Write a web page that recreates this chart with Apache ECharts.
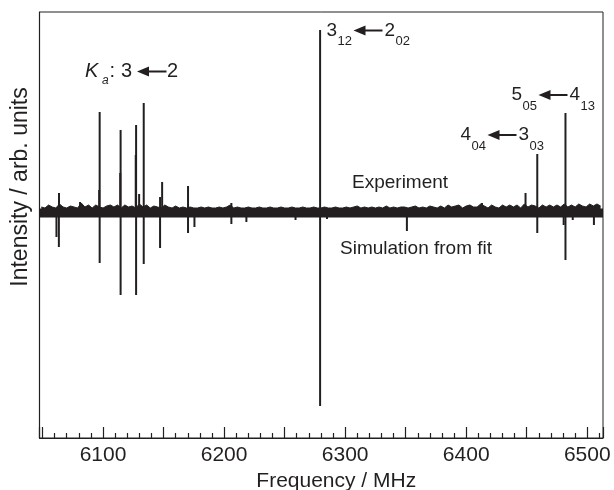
<!DOCTYPE html>
<html>
<head>
<meta charset="utf-8">
<script src="https://cdn.jsdelivr.net/npm/echarts@6/dist/echarts.min.js"></script>
<style>
  html, body { margin: 0; padding: 0; background: #fff; }
  #chart { width: 614px; height: 490px; }
</style>
</head>
<body>
<div id="chart"></div>
<script>
// frequency in MHz, intensity in arb. units (experiment up, simulation from fit down)
const expFreq = [6063.6, 6081, 6096.8, 6097.2, 6114.2, 6114.5, 6127.0, 6127.3, 6129.8, 6133.6, 6147.1, 6148.8, 6170.2, 6206, 6279.3, 6413, 6449, 6458.7, 6482];
const expInt  = [20, 11, 23, 101, 40, 83, 58, 88, 19, 110, 16, 31, 27, 10, 183, 10, 20, 59, 100];

const simFreq = [6061.5, 6063.5, 6097.2, 6114.5, 6127.3, 6133.6, 6147.1, 6170.2, 6175.5, 6206, 6218.4, 6259, 6279.3, 6285, 6351, 6458.7, 6480.5, 6482, 6488, 6505.5];
const simInt  = [-24, -34, -50, -82, -82, -51, -35, -20, -14, -11, -9, -7, -193, -6, -18, -20, -12, -47, -7, -12];

// noise riding on the experimental baseline
const noiseFreq = [
  6049, 6052, 6055, 6058, 6061, 6064, 6067, 6070, 6073, 6076,
  6079, 6082, 6085, 6088, 6091, 6094, 6097, 6100, 6103, 6106,
  6109, 6112, 6115, 6118, 6121, 6124, 6127, 6130, 6133, 6136,
  6139, 6142, 6145, 6148, 6151, 6154, 6157, 6160, 6163, 6166,
  6169, 6172, 6175, 6178, 6181, 6184, 6187, 6190, 6193, 6196,
  6199, 6202, 6205, 6208, 6211, 6214, 6217, 6220, 6223, 6226,
  6229, 6232, 6235, 6238, 6241, 6244, 6247, 6250, 6253, 6256,
  6259, 6262, 6265, 6268, 6271, 6274, 6277, 6280, 6283, 6286,
  6289, 6292, 6295, 6298, 6301, 6304, 6307, 6310, 6313, 6316,
  6319, 6322, 6325, 6328, 6331, 6334, 6337, 6340, 6343, 6346,
  6349, 6352, 6355, 6358, 6361, 6364, 6367, 6370, 6373, 6376,
  6379, 6382, 6385, 6388, 6391, 6394, 6397, 6400, 6403, 6406,
  6409, 6412, 6415, 6418, 6421, 6424, 6427, 6430, 6433, 6436,
  6439, 6442, 6445, 6448, 6451, 6454, 6457, 6460, 6463, 6466,
  6469, 6472, 6475, 6478, 6481, 6484, 6487, 6490, 6493, 6496,
  6499, 6502, 6505, 6508, 6511
];
const noiseInt = [
  6, 5, 8, 6, 5, 9, 6, 5, 7, 6,
  5, 10, 6, 8, 5, 8, 6, 5, 7, 8,
  6, 8, 5, 8, 6, 7, 5, 9, 6, 8,
  5, 7, 6, 5, 8, 6, 5, 7, 5, 6,
  5, 6, 5, 5, 6, 5, 6, 5, 5, 6,
  5, 6, 8, 5, 6, 5, 5, 6, 5, 5,
  6, 5, 5, 6, 5, 5, 6, 5, 5, 6,
  5, 5, 6, 5, 5, 6, 5, 5, 6, 5,
  5, 6, 5, 5, 6, 5, 6, 7, 5, 6,
  5, 6, 5, 6, 5, 7, 5, 6, 5, 6,
  6, 5, 6, 7, 5, 6, 5, 7, 6, 5,
  7, 5, 8, 6, 7, 8, 5, 7, 8, 6,
  6, 9, 7, 5, 8, 6, 5, 8, 6, 8,
  6, 8, 5, 9, 6, 8, 7, 5, 8, 6,
  8, 6, 8, 6, 9, 6, 8, 6, 9, 7,
  6, 9, 7, 9, 7
];

const xRange = [6047.5, 6513];
const yRange = [-225, 201];
const xTickLabels = [6100, 6200, 6300, 6400, 6500];

const ink = '#231f20';
const font = '"Liberation Sans", Arial, sans-serif';

const chart = echarts.init(document.getElementById('chart'), null, { renderer: 'canvas' });

function sticks(freqs, ints, width) {
  return {
    type: 'custom',
    data: freqs.map((f, i) => [f, ints[i]]),
    clip: true,
    silent: true,
    renderItem: (params, api) => {
      const p0 = api.coord([api.value(0), 0]);
      const p1 = api.coord([api.value(0), api.value(1)]);
      return {
        type: 'line',
        shape: { x1: p0[0], y1: p0[1], x2: p1[0], y2: p1[1] },
        style: { stroke: ink, lineWidth: width }
      };
    }
  };
}

// annotation helpers (pixel placement of text pieces)
function txt(x, y, s, size, italic) {
  return {
    type: 'text', x: x, y: y, silent: true,
    style: { text: s, fill: ink, font: (italic ? 'italic ' : '') + size + 'px ' + font, verticalAlign: 'middle', align: 'left' }
  };
}
function arrow(x1, x2, y) {
  return {
    type: 'group', silent: true,
    children: [
      { type: 'polygon', shape: { points: [[x1, y], [x1 + 12, y - 5], [x1 + 12, y + 5]] }, style: { fill: ink } },
      { type: 'line', shape: { x1: x1 + 10, y1: y, x2: x2, y2: y }, style: { stroke: ink, lineWidth: 2 } }
    ]
  };
}
function transition(x, y, a, aSub, b, bSub) {
  // x: left of first level, y: middle of the main digits
  return [
    txt(x, y, a, 19),
    txt(x + 11, y + 11, aSub, 13),
    arrow(x + 27, x + 56, y),
    txt(x + 58, y, b, 19),
    txt(x + 69, y + 11, bSub, 13)
  ];
}

const graphics = [].concat(
  [txt(85, 71.5, 'K', 20, true), txt(102, 81, 'a', 12, true), txt(109.5, 71.5, ':', 20), txt(121, 71.5, '3', 20), arrow(137, 166.5, 71.5), txt(167, 71.5, '2', 20)],
  transition(326.5, 30.5, '3', '12', '2', '02'),
  transition(511.5, 95, '5', '05', '4', '13'),
  transition(460.5, 135, '4', '04', '3', '03'),
  [txt(352, 183, 'Experiment', 19), txt(340, 249, 'Simulation from fit', 19)],
  [{
    type: 'text', x: 21, y: 187, rotation: Math.PI / 2, silent: true,
    style: { text: 'Intensity / arb. units', fill: ink, font: '23px ' + font, align: 'center', verticalAlign: 'middle' }
  }]
);

chart.setOption({
  animation: false,
  grid: {
    left: 39.5, right: 11, top: 12, bottom: 52,
    show: true, borderColor: ink, borderWidth: 1,
    containLabel: false, outerBoundsMode: 'none'
  },
  xAxis: {
    type: 'value',
    min: xRange[0],
    max: xRange[1],
    splitNumber: 9,
    name: 'Frequency / MHz',
    nameLocation: 'middle',
    nameGap: 32,
    nameTextStyle: { color: ink, fontSize: 21, fontFamily: font, padding: [0, 0, 0, 30] },
    axisLine: { onZero: false, lineStyle: { color: ink, width: 1.2 } },
    axisTick: { show: true, inside: true, length: 11, lineStyle: { color: ink, width: 1.2 } },
    minorTick: { show: true, splitNumber: 5, length: 5, lineStyle: { color: ink, width: 1.2 } },
    splitLine: { show: false },
    axisLabel: {
      color: ink, fontSize: 21, fontFamily: font, margin: 7,
      showMinLabel: false, showMaxLabel: false,
      formatter: v => xTickLabels.includes(v) ? String(v) : ''
    }
  },
  yAxis: {
    type: 'value',
    min: yRange[0],
    max: yRange[1],
    axisLine: { show: true, onZero: false, lineStyle: { color: ink, width: 1.2 } },
    axisTick: { show: false },
    axisLabel: { show: false },
    splitLine: { show: false }
  },
  series: [
    {
      type: 'line',
      data: [[xRange[0], 0], [xRange[1], 0]],
      symbol: 'none',
      silent: true,
      lineStyle: { color: ink, width: 9 }
    },
    {
      type: 'line',
      data: noiseFreq.map((f, i) => [f, noiseInt[i]]),
      symbol: 'none',
      silent: true,
      lineStyle: { color: ink, width: 1 },
      areaStyle: { color: ink, opacity: 1, origin: 0 }
    },
    sticks(expFreq, expInt, 2),
    sticks(simFreq, simInt, 2)
  ],
  graphic: graphics
});
</script>
</body>
</html>
